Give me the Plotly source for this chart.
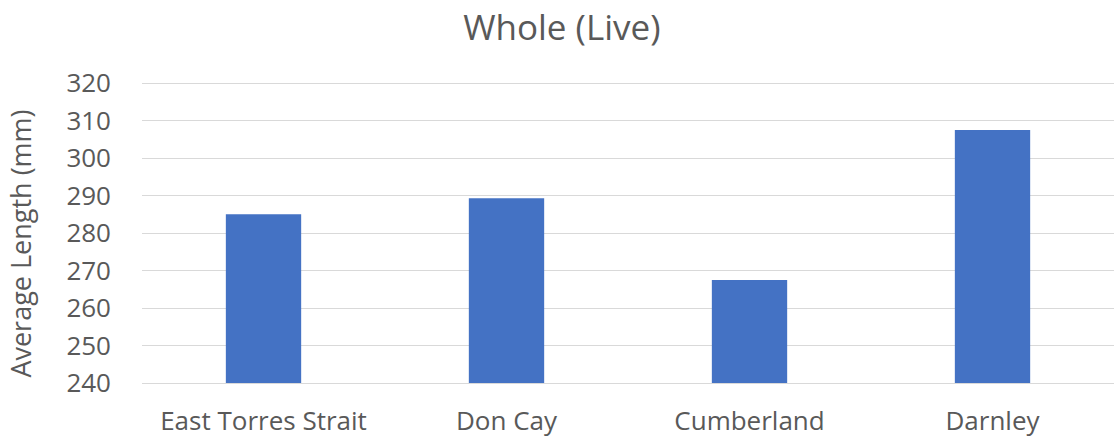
import plotly.graph_objects as go

categories = ["East Torres Strait", "Don Cay", "Cumberland", "Darnley"]
avg_length = [285.0, 289.3, 267.5, 307.5]
y_ticks = [240, 250, 260, 270, 280, 290, 300, 310, 320]
y_title = "Average Length (mm)"
chart_title = "Whole (Live)"

text_color = "#595959"
font_family = "Open Sans, Noto Sans, sans-serif"

fig = go.Figure(
    go.Bar(
        x=categories,
        y=avg_length,
        marker=dict(color="#4472C4", line=dict(width=0)),
        width=0.31,
    )
)

fig.update_layout(
    width=1117,
    height=440,
    paper_bgcolor="white",
    plot_bgcolor="white",
    margin=dict(l=142, r=3, t=80, b=57, autoexpand=False),
    title=dict(
        text=chart_title,
        x=0.503,
        xanchor="center",
        y=0.938,
        yanchor="middle",
        font=dict(family=font_family, size=35, color=text_color),
    ),
    font=dict(family=font_family, color=text_color),
    showlegend=False,
    annotations=[
        dict(
            text=y_title,
            xref="paper",
            yref="paper",
            x=-0.1245,
            y=0.46,
            xanchor="center",
            yanchor="middle",
            textangle=-90,
            showarrow=False,
            font=dict(family=font_family, size=27, color=text_color),
        )
    ],
)

fig.update_yaxes(
    range=[240, 320.8],
    tickvals=y_ticks,
    ticktext=[str(v) for v in y_ticks],
    tickfont=dict(size=26, color=text_color),
    showgrid=True,
    gridcolor="#d9d9d9",
    gridwidth=1,
    zeroline=False,
    showline=False,
    ticks="",
    ticklabelstandoff=30,
    automargin=False,
)

fig.update_xaxes(
    tickfont=dict(size=26, color=text_color),
    showline=True,
    linecolor="#d9d9d9",
    linewidth=1,
    ticks="",
    ticklabelstandoff=15,
    automargin=False,
)

fig.write_html(
    "out.html",
    config={"displayModeBar": False},
    post_script="document.body.style.margin='0';",
)
